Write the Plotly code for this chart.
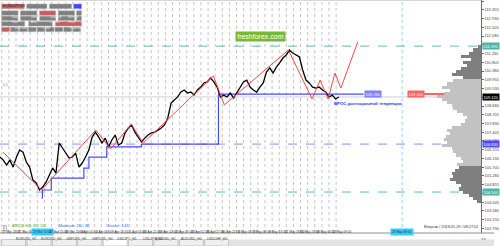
import plotly.graph_objects as go

# ---------------- data ----------------
close_prices = [106.20,106.05,105.81,106.05,105.71,106.20,106.54,106.44,105.96,105.71,
                105.08,104.94,104.60,104.74,104.98,105.33,105.67,105.42,106.88,106.64,
                106.39,106.15,106.20,106.39,105.71,105.91,106.20,106.54,107.17,107.41,
                107.17,106.88,107.12,106.69,107.03,107.27,106.78,106.88,107.37,107.61,
                107.76,107.41,107.17,106.93,107.12,107.27,107.37,107.41,107.51,107.61,
                107.76,108.10,108.82,108.97,109.12,109.36,109.46,109.31,109.36,109.21,
                109.46,109.60,109.80,109.85,110.04,109.85,109.60,109.12,109.21,109.12,
                109.31,109.07,109.31,109.60,109.85,109.94,109.60,109.46,109.36,109.60,
                109.80,110.33,110.53,110.28,110.57,110.77,111.01,111.16,111.40,111.25,
                111.16,111.06,110.43,109.94,109.80,109.60,109.55,109.60,109.46,109.36,
                109.12,109.21,109.02,109.12]
close_bar_step = 11.1

zigzag_bars = [10, 140, 323, 373, 443, 483, 720, 757, 973, 1053, 1080, 1107, 1130, 1150, 1207]
zigzag_prices = [106.44, 104.60, 107.51, 106.59, 107.80, 106.88, 110.14, 108.73, 111.40,
                 109.02, 109.94, 109.02, 110.28, 109.55, 111.79]

step_bars = [140, 143, 173, 283, 300, 360, 477, 737, 1227]
step_prices = [104.21, 104.60, 105.18, 105.66, 106.20, 106.69, 106.83, 109.26, 109.26]

teal_levels = [111.59, 104.50]
blue_level = 106.83
bid_price = 109.12
target_price = 109.26
target_start_bar = 1423
cursor_bar = 1357

profile_top = 111.55
profile_step = 0.15
profile_volume = [3, 8, 12, 20, 10, 18, 14, 20, 25, 30, 18, 28, 35, 40, 32, 38, 45, 40, 35, 30,
                  28, 24, 18, 14, 16, 20, 30, 35, 32, 36, 38, 35, 40, 30, 28, 25, 20, 18, 24, 22,
                  26, 30, 28, 32, 25, 20, 22, 18, 12, 8, 4]
profile_dark_above = 110.0
profile_dark_below = 105.75

price_ticks = [round(113.780 - 0.425 * k, 3) for k in range(27)]

time_labels = ["19 Mar 2018", "21 Mar 05:00", "23 Mar 10:00", "27 Mar 15:00", "29 Mar 20:00",
               "3 Apr 01:00", "5 Apr 06:00", "9 Apr 11:00", "11 Apr 16:00", "13 Apr 21:00",
               "18 Apr 02:00", "20 Apr 07:00", "24 Apr 12:00", "26 Apr 17:00", "30 Apr 22:00",
               "3 May 03:00", "7 May 08:00", "9 May 13:00", "11 May 18:00", "15 May 23:00",
               "18 May 04:00", "22 May 09:00"]
time_label_step = 53
n_days = 48

tabs = ["EURUSD_H1", "EURUSD_H4", "GBPUSD_H1", "GBPUSD_H4", "USDJPY_H1",
        "USDJPY_H4", "AUDUSD_H1", "AUDUSD_H4", "USDCHF_H1"]
active_tab = "USDJPY_H1"

# ---------------- layout constants ----------------
W, H = 500, 246
AXIS_X = 487
CHART_BOTTOM = 233
X_MAX = AXIS_X / 0.3
Y_TOP, Y_BOT = 113.83, 102.51
FONT = "Liberation Sans"


def px(p):
    return p / W


def py(p):
    return 1 - p / H


fig = go.Figure()

# day separators
sep_x, sep_y = [], []
for d in range(n_days):
    sep_x += [d * 24 + 6, d * 24 + 6, None]
    sep_y += [Y_BOT, Y_TOP, None]
fig.add_trace(go.Scatter(x=sep_x, y=sep_y, mode="lines", hoverinfo="skip",
                         line=dict(color="#c4c4c4", width=1, dash="dot")))

# cursor vertical
fig.add_trace(go.Scatter(x=[cursor_bar, cursor_bar], y=[Y_BOT, Y_TOP], mode="lines",
                         line=dict(color="#8fd3ff", width=1, dash="dot")))

# volume profile
prof_levels = [profile_top - profile_step * k for k in range(len(profile_volume))]
prof_colors = ["#7f7f7f" if (p >= profile_dark_above or p <= profile_dark_below) else "#c2c2c2"
               for p in prof_levels]
fig.add_trace(go.Bar(x=profile_volume, y=prof_levels, orientation="h", xaxis="x2", yaxis="y",
                     width=profile_step, marker=dict(color=prof_colors, line=dict(width=0))))

# horizontal levels
for lv in teal_levels:
    fig.add_trace(go.Scatter(x=[0, X_MAX], y=[lv, lv], mode="lines",
                             line=dict(color="#5dbdb5", width=1, dash="dash")))
fig.add_trace(go.Scatter(x=[0, X_MAX], y=[blue_level, blue_level], mode="lines",
                         line=dict(color="#8a8aff", width=1, dash="dash")))
fig.add_trace(go.Scatter(x=[0, X_MAX], y=[bid_price, bid_price], mode="lines",
                         line=dict(color="#d0d0d0", width=1)))

# blue step line
fig.add_trace(go.Scatter(x=step_bars, y=step_prices, mode="lines", line_shape="hv",
                         line=dict(color="#4a4aff", width=1.2)))

# price line
close_bars = [i * close_bar_step for i in range(len(close_prices))]
fig.add_trace(go.Scatter(x=close_bars, y=close_prices, mode="lines",
                         line=dict(color="black", width=1.3)))

# zigzag
fig.add_trace(go.Scatter(x=zigzag_bars, y=zigzag_prices, mode="lines",
                         line=dict(color="#f24a4a", width=1)))

# target red line
fig.add_trace(go.Scatter(x=[target_start_bar, X_MAX], y=[target_price, target_price], mode="lines",
                         line=dict(color="#ff3030", width=1.5)))

ann = []
# labels on the chart lines
ann.append(dict(x=1258, y=target_price, xref="x", yref="y", text="109.260", showarrow=False,
                font=dict(size=4, color="white", family=FONT), bgcolor="#8080ff", borderpad=0.6))
ann.append(dict(x=1403, y=target_price, xref="x", yref="y", text="109.260", showarrow=False,
                font=dict(size=4, color="white", family=FONT), bgcolor="#ff6060", borderpad=0.6))
ann.append(dict(x=1240, y=108.82, xref="x", yref="y", text="<b>ВРОС долгосрочной тенденции</b>",
                showarrow=False, font=dict(size=4.3, color="#3030ff", family=FONT)))
ann.append(dict(x=4, y=bid_price + 0.6, xref="x", yref="y", text="0.5", showarrow=False,
                xanchor="left", font=dict(size=3.5, color="#e07020", family=FONT)))

# axis boxes
for lv, col in [(teal_levels[0], "#4fb3aa"), (bid_price, "#000000"),
                (blue_level, "#4a4aff"), (teal_levels[1], "#4fb3aa")]:
    ann.append(dict(x=px(AXIS_X + 0.5), y=lv, xref="paper", yref="y", xanchor="left",
                    text=f"{lv:.3f}", showarrow=False, bgcolor=col, borderpad=0.5,
                    font=dict(size=4, color="white", family=FONT)))

# time labels
for i, t in enumerate(time_labels):
    ann.append(dict(x=i * time_label_step, y=py(236.3), xref="x", yref="paper", xanchor="left",
                    text=t, showarrow=False, bgcolor="#33ccff" if i == 2 else None,
                    font=dict(size=3.2, color="#333333", family=FONT)))
ann.append(dict(x=cursor_bar, y=py(236.3), xref="x", yref="paper", xanchor="center",
                text="29 May 08:00", showarrow=False, bgcolor="#33ccff",
                font=dict(size=3.2, color="#333333", family=FONT)))

# bottom info
ann.append(dict(x=px(10), y=py(229.5), xref="paper", yref="paper", xanchor="left",
                text="ATR(10 H4): 89 / 152", showarrow=False,
                font=dict(size=3.6, color="#22aa22", family=FONT)))
ann.append(dict(x=px(58), y=py(229.5), xref="paper", yref="paper", xanchor="left",
                text="Maximum: 110 / 68", showarrow=False,
                font=dict(size=3.6, color="#2266ff", family=FONT)))
ann.append(dict(x=px(105), y=py(229.5), xref="paper", yref="paper", xanchor="left",
                text="Channel: 1.83", showarrow=False,
                font=dict(size=3.6, color="#2266ff", family=FONT)))
ann.append(dict(x=px(486), y=py(231), xref="paper", yref="paper", xanchor="right",
                text="Вторник / 2018.05.29 / 08:27:01", showarrow=False,
                font=dict(size=3.8, color="#333333", family=FONT)))
ann.append(dict(x=px(3.5), y=py(230.5), xref="paper", yref="paper",
                text="1", showarrow=False, bordercolor="#999999", borderwidth=0.5, borderpad=0.3,
                font=dict(size=3, color="#333333", family=FONT)))

# title
ann.append(dict(x=px(1.5), y=py(2), xref="paper", yref="paper", xanchor="left",
                text="▾ USDJPY,H1", showarrow=False,
                font=dict(size=3.6, color="#222222", family=FONT)))

# freshforex
ann.append(dict(x=px(264), y=py(30.5), xref="paper", yref="paper",
                text="freshforex.com", showarrow=False, bgcolor="#7ab739", borderpad=1.2,
                font=dict(size=7, color="white", family=FONT)))

shapes = []
# panel buttons
GRAY, RED, BLUE = "#808080", "#cc5c5c", "#4545ff"
buttons = [
    (1, [("Unlimited Profile", 1.7, 24.5, RED), ("Line Profile", 27, 47.5, GRAY),
         ("Levels Profile", 50, 72.5, GRAY), ("", 74.5, 82.5, BLUE)]),
    (2, [("Daily", 1.7, 18.3, GRAY), ("Weekly", 20.7, 37.3, GRAY), ("Quarterly", 40, 56.3, RED),
         ("Monthly", 59, 75.5, GRAY), ("Year", 77.5, 82.5, GRAY)]),
    (3, [("Hour", 1.7, 18.3, GRAY), ("Auto", 20.7, 37.3, GRAY), ("Custom", 40, 56.3, GRAY),
         ("Fixed", 59, 75.5, GRAY), ("CSV", 77.5, 82.5, GRAY)]),
    (4, [("Less Size", 1.7, 25, GRAY), ("Clear", 29, 53, GRAY), ("Right Side", 56, 82.5, RED)]),
]
row_y = {1: (4, 8.7), 2: (10.8, 15.3), 3: (16.2, 20.5), 4: (21.6, 26), 5: (27.3, 31.7)}
nums = ["1", "2", "3", "4", "5", "10", "15", "20", "25"]
row5 = []
bw = (82.5 - 1.7) / len(nums)
for i, n in enumerate(nums):
    row5.append((n, 1.7 + i * bw, 1.7 + (i + 1) * bw - 0.9, RED if i == 0 else GRAY))
buttons.append((5, row5))
for r, items in buttons:
    y0, y1 = row_y[r]
    for lab, x0, x1, col in items:
        shapes.append(dict(type="rect", xref="paper", yref="paper", x0=px(x0), x1=px(x1),
                           y0=py(y1), y1=py(y0), fillcolor=col,
                           line=dict(color="#aaaaaa" if col != BLUE else "#9999ff", width=0.5)))
        if lab:
            ann.append(dict(x=px((x0 + x1) / 2), y=py((y0 + y1) / 2), xref="paper", yref="paper",
                            text=lab, showarrow=False,
                            font=dict(size=2.8, color="#e8e8e8", family=FONT)))

# chart frame
shapes.append(dict(type="line", xref="paper", yref="paper", x0=0, x1=px(AXIS_X), y0=1, y1=1,
                   line=dict(color="#b0b0b0", width=1)))
shapes.append(dict(type="line", xref="paper", yref="paper", x0=0, x1=1,
                   y0=py(CHART_BOTTOM), y1=py(CHART_BOTTOM), line=dict(color="#909090", width=1)))
# bottom bar + tabs
shapes.append(dict(type="rect", xref="paper", yref="paper", x0=0, x1=1, y0=0, y1=py(239.5),
                   fillcolor="#e4e4e4", line=dict(width=0)))
tab_w = 25.7
for i, t in enumerate(tabs):
    x0 = 1.7 + i * tab_w
    x1 = x0 + tab_w - 1.5
    active = t == active_tab
    shapes.append(dict(type="rect", xref="paper", yref="paper", x0=px(x0), x1=px(x1),
                       y0=py(246), y1=py(239.5), fillcolor="white" if active else "#efefef",
                       line=dict(color="#a0a0a0", width=0.5)))
    ann.append(dict(x=px((x0 + x1) / 2), y=py(242.8), xref="paper", yref="paper", text=t,
                    showarrow=False, font=dict(size=3.4, color="#444444", family=FONT)))
ann.append(dict(x=px(494), y=py(242.8), xref="paper", yref="paper", text="◂ ▸",
                showarrow=False, font=dict(size=3.6, color="#888888", family=FONT)))

fig.update_layout(
    width=W, height=H, margin=dict(l=0, r=0, t=0, b=0),
    paper_bgcolor="white", plot_bgcolor="white", showlegend=False,
    xaxis=dict(domain=[0, px(AXIS_X)], range=[0, X_MAX], showgrid=False, zeroline=False,
               showticklabels=False, ticks="", showline=False, fixedrange=True),
    xaxis2=dict(overlaying="x", range=[AXIS_X, 0], visible=False, fixedrange=True),
    yaxis=dict(domain=[1 - CHART_BOTTOM / H, 1], range=[Y_BOT, Y_TOP], side="right",
               showgrid=False, zeroline=False, tickvals=price_ticks,
               ticktext=[f"{v:.3f}" for v in price_ticks], ticks="outside", ticklen=1.5,
               tickcolor="#666666", tickfont=dict(size=4, color="#444444", family=FONT),
               showline=True, linecolor="#707070", linewidth=1, fixedrange=True),
    annotations=ann, shapes=shapes, bargap=0,
)

fig.write_html("out.html")
